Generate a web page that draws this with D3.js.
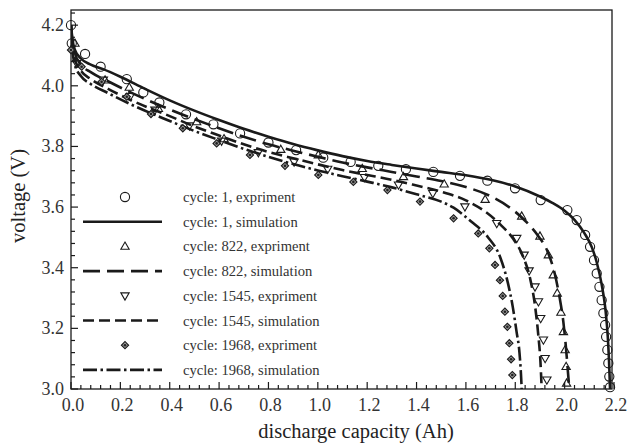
<!DOCTYPE html>
<html><head><meta charset="utf-8">
<script src="https://cdn.jsdelivr.net/npm/d3@7"></script>
<style>body{margin:0;background:#fff}svg{display:block}text{font-family:"Liberation Serif","DejaVu Serif",serif}</style>
</head><body>
<svg id="c" width="628" height="444"></svg>
<script>
// ---- data ----
const xTicks = [0.0,0.2,0.4,0.6,0.8,1.0,1.2,1.4,1.6,1.8,2.0,2.2];
const yTicks = [3.0,3.2,3.4,3.6,3.8,4.0,4.2];
const legendLabels = ["cycle: 1, expriment","cycle: 1, simulation","cycle: 822, expriment","cycle: 822, simulation","cycle: 1545, expriment","cycle: 1545, simulation","cycle: 1968, expriment","cycle: 1968, simulation"];

const sim1 = [[0,4.2],[0.005,4.16],[0.015,4.12],[0.04,4.09],[0.08,4.07],[0.13,4.055],[0.2,4.03],[0.3,3.99],[0.4,3.952],[0.5,3.918],[0.6,3.887],[0.7,3.858],[0.8,3.832],[0.9,3.808],[1.0,3.787],[1.1,3.768],[1.2,3.752],[1.3,3.739],[1.4,3.727],[1.5,3.716],[1.6,3.705],[1.7,3.69],[1.8,3.668],[1.9,3.635],[1.95,3.614],[2.0,3.588],[2.04,3.558],[2.08,3.514],[2.11,3.468],[2.13,3.418],[2.15,3.345],[2.165,3.265],[2.175,3.17],[2.18,3.09],[2.184,3.0]];
const exp1 = [[0,4.2],[0.003,4.14],[0.057,4.105],[0.12,4.063],[0.226,4.022],[0.293,3.978],[0.358,3.945],[0.466,3.906],[0.577,3.873],[0.685,3.843],[0.80,3.813],[0.912,3.788],[1.022,3.763],[1.133,3.749],[1.245,3.736],[1.357,3.725],[1.468,3.716],[1.576,3.703],[1.687,3.687],[1.799,3.662],[1.903,3.623],[2.011,3.59],[2.049,3.557],[2.083,3.508],[2.103,3.469],[2.119,3.425],[2.13,3.381],[2.141,3.337],[2.15,3.293],[2.157,3.25],[2.164,3.211],[2.168,3.172],[2.173,3.129],[2.177,3.085],[2.181,3.041],[2.184,3.006]];

const sim822 = [[0,4.2],[0.005,4.15],[0.015,4.11],[0.04,4.07],[0.08,4.045],[0.15,4.015],[0.25,3.975],[0.4,3.922],[0.5,3.89],[0.6,3.86],[0.7,3.832],[0.8,3.807],[0.9,3.786],[1.0,3.766],[1.1,3.747],[1.2,3.731],[1.3,3.716],[1.4,3.701],[1.5,3.686],[1.6,3.666],[1.7,3.636],[1.78,3.597],[1.84,3.555],[1.89,3.508],[1.93,3.455],[1.96,3.38],[1.98,3.30],[1.995,3.22],[2.005,3.14],[2.013,3.06],[2.019,3.0]];
const exp822 = [[0.016,4.14],[0.138,4.019],[0.236,3.995],[0.354,3.925],[0.509,3.881],[0.62,3.825],[0.85,3.79],[1.002,3.772],[1.18,3.727],[1.347,3.70],[1.512,3.676],[1.678,3.625],[1.826,3.57],[1.90,3.504],[1.934,3.442],[1.954,3.376],[1.97,3.316],[1.985,3.253],[1.995,3.189],[2.002,3.129],[2.006,3.074],[2.008,3.019]];

const sim1545 = [[0,4.2],[0.005,4.14],[0.015,4.09],[0.04,4.05],[0.08,4.022],[0.15,3.99],[0.25,3.95],[0.4,3.90],[0.5,3.866],[0.6,3.836],[0.7,3.807],[0.8,3.782],[0.9,3.761],[1.0,3.741],[1.1,3.722],[1.2,3.706],[1.3,3.69],[1.4,3.671],[1.5,3.651],[1.6,3.622],[1.68,3.584],[1.74,3.542],[1.79,3.497],[1.83,3.44],[1.86,3.365],[1.88,3.275],[1.893,3.18],[1.902,3.09],[1.907,3.0]];
const exp1545 = [[0.023,4.074],[0.131,4.019],[0.24,3.965],[0.34,3.92],[0.48,3.868],[0.61,3.818],[0.759,3.780],[0.904,3.749],[1.04,3.725],[1.189,3.698],[1.327,3.673],[1.466,3.645],[1.596,3.601],[1.725,3.546],[1.806,3.497],[1.836,3.442],[1.856,3.39],[1.88,3.337],[1.894,3.288],[1.903,3.233],[1.914,3.162],[1.921,3.101],[1.928,3.03]];

const sim1968 = [[0,4.2],[0.005,4.13],[0.015,4.07],[0.04,4.032],[0.08,4.006],[0.15,3.976],[0.25,3.936],[0.4,3.884],[0.5,3.851],[0.6,3.821],[0.7,3.792],[0.8,3.766],[0.9,3.742],[1.0,3.721],[1.1,3.702],[1.2,3.684],[1.3,3.665],[1.4,3.642],[1.5,3.618],[1.55,3.598],[1.62,3.553],[1.69,3.50],[1.74,3.432],[1.77,3.35],[1.79,3.27],[1.805,3.19],[1.817,3.12],[1.823,3.05],[1.826,3.0]];
const exp1968 = [[0,4.118],[0.043,4.063],[0.124,4.013],[0.226,3.964],[0.324,3.907],[0.453,3.86],[0.59,3.81],[0.725,3.772],[0.867,3.736],[1.002,3.706],[1.144,3.683],[1.282,3.656],[1.414,3.618],[1.55,3.563],[1.65,3.513],[1.695,3.464],[1.718,3.409],[1.738,3.359],[1.749,3.307],[1.758,3.255],[1.768,3.205],[1.776,3.151],[1.783,3.098],[1.788,3.046]];

// ---- layout ----
const svg = d3.select("#c");
const L = 71, R = 612, T = 10, B = 389;
const x = d3.scaleLinear().domain([0, 2.2]).range([L, 614]);
const y = d3.scaleLinear().domain([3.0, 4.25]).range([B, T]);
const ink = "#1a1a1a";

svg.append("clipPath").attr("id","clip").append("rect").attr("x",L).attr("y",T).attr("width",R-L).attr("height",B-T);

// frame
svg.append("rect").attr("x",L).attr("y",T).attr("width",R-L).attr("height",B-T).attr("fill","none").attr("stroke",ink).attr("stroke-width",1.3);

// ticks
const minorX = d3.range(0, 2.2001, 0.04).filter(v=>Math.abs(v/0.2-Math.round(v/0.2))>1e-6);
const minorY = d3.range(3.0, 4.2501, 0.04).filter(v=>Math.abs((v-3)/0.2-Math.round((v-3)/0.2))>1e-6);
const tg = svg.append("g").attr("stroke",ink).attr("stroke-width",1.2);
xTicks.forEach(v=>tg.append("line").attr("x1",x(v)).attr("x2",x(v)).attr("y1",B).attr("y2",B-7));
minorX.forEach(v=>tg.append("line").attr("x1",x(v)).attr("x2",x(v)).attr("y1",B).attr("y2",B-4));
yTicks.forEach(v=>tg.append("line").attr("x1",L).attr("x2",L+7).attr("y1",y(v)).attr("y2",y(v)));
minorY.forEach(v=>tg.append("line").attr("x1",L).attr("x2",L+4).attr("y1",y(v)).attr("y2",y(v)));

// tick labels
svg.append("g").selectAll("text").data(xTicks).join("text")
  .attr("x",d=>x(d)+2).attr("y",411).attr("text-anchor","middle").attr("font-size",18).attr("fill","#333")
  .text(d=>d.toFixed(1));
svg.append("g").selectAll("text").data(yTicks).join("text")
  .attr("x",64).attr("y",d=>y(d)+6).attr("text-anchor","end").attr("font-size",18).attr("fill","#333")
  .text(d=>d.toFixed(1));

// axis titles
svg.append("text").attr("x",356).attr("y",438).attr("text-anchor","middle").attr("font-size",20.5).attr("fill","#222").text("discharge capacity (Ah)");
svg.append("text").attr("transform","translate(25,196) rotate(-90)").attr("text-anchor","middle").attr("font-size",20.5).attr("fill","#222").text("voltage (V)");

// lines
const styles = [
  {data: sim1, dash: null},
  {data: sim822, dash: "17,7"},
  {data: sim1545, dash: "11,5"},
  {data: sim1968, dash: "14,3.5,2.5,3.5"}
];
const line = d3.line().x(d=>x(d[0])).y(d=>y(d[1])).curve(d3.curveMonotoneX);
const plot = svg.append("g").attr("clip-path","url(#clip)");
styles.forEach(s=>{
  plot.append("path").datum(s.data).attr("d",line).attr("fill","none").attr("stroke",ink)
    .attr("stroke-width",2.6).attr("stroke-dasharray",s.dash);
});

// markers
function drawMarker(g, type, cx, cy){
  if(type==="circle"){
    g.append("circle").attr("cx",cx).attr("cy",cy).attr("r",4.6).attr("fill","none").attr("stroke",ink).attr("stroke-width",1.1);
  } else if(type==="up"){
    g.append("path").attr("d",d3.symbol(d3.symbolTriangle,30)()).attr("transform",`translate(${cx},${cy+0.5})`).attr("fill","none").attr("stroke",ink).attr("stroke-width",1.1);
  } else if(type==="down"){
    g.append("path").attr("d",d3.symbol(d3.symbolTriangle,30)()).attr("transform",`translate(${cx},${cy-0.5}) rotate(180)`).attr("fill","none").attr("stroke",ink).attr("stroke-width",1.1);
  } else {
    g.append("path").attr("d",d3.symbol(d3.symbolSquare,26)()).attr("transform",`translate(${cx},${cy}) rotate(45)`).attr("fill","#999").attr("stroke",ink).attr("stroke-width",1.1);
    g.append("circle").attr("cx",cx).attr("cy",cy).attr("r",1.3).attr("fill","#222");
  }
}
const mk = svg.append("g");
[[exp1,"circle"],[exp822,"up"],[exp1545,"down"],[exp1968,"diamond"]].forEach(([arr,t])=>{
  arr.forEach(d=>drawMarker(mk,t,x(d[0]),y(d[1])));
});

// legend
const lg = svg.append("g");
const rowY = i => 197 + i*24.7;
const kinds = [["circle",null],[null,null],["up",null],[null,"17,7"],["down",null],[null,"11,5"],["diamond",null],[null,"14,3.5,2.5,3.5"]];
kinds.forEach((k,i)=>{
  const yy = rowY(i);
  if(k[0]) drawMarker(lg,k[0],125,yy);
  else lg.append("line").attr("x1",83).attr("x2",162).attr("y1",yy).attr("y2",yy).attr("stroke",ink).attr("stroke-width",2.6).attr("stroke-dasharray",k[1]);
  lg.append("text").attr("x",183).attr("y",yy+5).attr("font-size",14.6).attr("fill","#333").text(legendLabels[i]);
});
</script>
</body></html>
